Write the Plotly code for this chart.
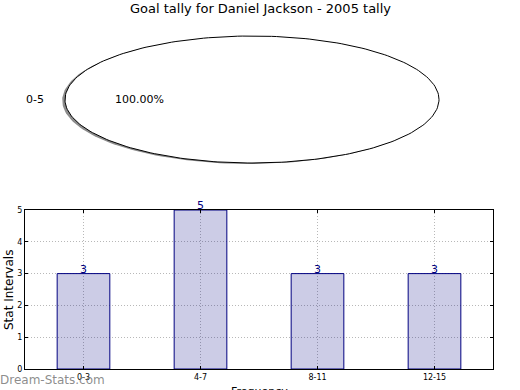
import numpy as np
import plotly.graph_objects as go

# ---- data ----
title = "Goal tally for Daniel Jackson - 2005 tally"
pie_labels = ["0-5"]
pie_values = [1]
bar_categories = ["0-3", "4-7", "8-11", "12-15"]
bar_values = [3, 5, 3, 3]
y_ticks = [0, 1, 2, 3, 4, 5]

FONT = "DejaVu Sans"
fig = go.Figure()

# ---- pie (drawn as wedges on a stretched axis so it renders as an ellipse) ----
total = sum(pie_values)
start = 0.0
shadow_dx, shadow_dy = -0.015, -0.015
wedges = []
for lab, v in zip(pie_labels, pie_values):
    frac = v / total
    th = np.linspace(start, start + 2 * np.pi * frac, 241)
    xs, ys = np.cos(th), np.sin(th)
    if frac < 1:
        xs = np.concatenate([[0], xs, [0]])
        ys = np.concatenate([[0], ys, [0]])
    wedges.append((lab, frac, xs, ys, start + np.pi * frac))
    start += 2 * np.pi * frac

for lab, frac, xs, ys, mid in wedges:
    fig.add_trace(go.Scatter(x=xs + shadow_dx, y=ys + shadow_dy, mode="lines",
                             fill="toself", fillcolor="rgba(0,0,0,0.45)",
                             line=dict(width=0, color="rgba(0,0,0,0)"),
                             xaxis="x2", yaxis="y2", hoverinfo="skip", showlegend=False))
for lab, frac, xs, ys, mid in wedges:
    fig.add_trace(go.Scatter(x=xs, y=ys, mode="lines", fill="toself", fillcolor="white",
                             line=dict(width=1, color="black"),
                             xaxis="x2", yaxis="y2", hoverinfo="skip", showlegend=False))
    lx, ly = 1.1 * np.cos(mid), 1.1 * np.sin(mid)
    fig.add_annotation(x=lx, y=ly, xref="x2", yref="y2", text=lab, showarrow=False,
                       xanchor="right" if lx < 0 else "left", yanchor="middle",
                       font=dict(family=FONT, size=11, color="black"))
    px, py = 0.6 * np.cos(mid), 0.6 * np.sin(mid)
    fig.add_annotation(x=px, y=py, xref="x2", yref="y2", text=f"{frac*100:.2f}%",
                       showarrow=False, xanchor="center", yanchor="middle",
                       font=dict(family=FONT, size=11, color="black"))

# ---- bars ----
xs_bar = list(range(len(bar_categories)))
fig.add_trace(go.Bar(x=xs_bar, y=bar_values, width=0.45,
                     marker=dict(color="rgba(0,0,128,0.2)", line=dict(color="#000080", width=1)),
                     xaxis="x", yaxis="y", showlegend=False, hoverinfo="skip"))
for xi, v in zip(xs_bar, bar_values):
    fig.add_annotation(x=xi, y=v, xref="x", yref="y", text=str(v), showarrow=False,
                       xanchor="center", yanchor="bottom", yshift=-4,
                       font=dict(family=FONT, size=11, color="#000080"))

W, H = 520, 390
grid = dict(showgrid=True, gridcolor="#b8b8b8", griddash="1px,2px", gridwidth=1)
fig.update_layout(
    width=W, height=H, margin=dict(l=0, r=0, t=0, b=0, autoexpand=False),
    paper_bgcolor="white", plot_bgcolor="rgba(0,0,0,0)",
    font=dict(family=FONT, color="black"),
    bargap=0,
    xaxis=dict(domain=[25 / W, 493 / W], anchor="y", range=[-0.5, 3.5],
               tickvals=xs_bar, ticktext=bar_categories, automargin=False,
               tickfont=dict(size=8), ticks="inside", ticklen=3, tickcolor="black",
               showline=True, linecolor="black", linewidth=1, mirror="ticks",
               zeroline=False, fixedrange=True, **grid),
    yaxis=dict(domain=[1 - 369 / H, 1 - 210 / H], anchor="x", range=[0, 5],
               tickvals=y_ticks, tickfont=dict(size=8), ticks="inside", ticklen=3,
               tickcolor="black", showline=True, linecolor="black", linewidth=1,
               automargin=False, mirror="ticks", zeroline=False, fixedrange=True, **grid),
    xaxis2=dict(domain=[0, 1], anchor="y2", range=[-252 / 187, (W - 252) / 187],
                visible=False, fixedrange=True, automargin=False),
    yaxis2=dict(domain=[1 - 170 / H, 1 - 30 / H], anchor="x2",
                range=[-(170 - 99.5) / 63.5, (99.5 - 30) / 63.5],
                visible=False, fixedrange=True, automargin=False),
)

fig.add_annotation(x=0.5, y=1 - 8 / H, xref="paper", yref="paper", text=title,
                   showarrow=False, xanchor="center", yanchor="middle",
                   font=dict(family=FONT, size=13, color="black"))
fig.add_annotation(x=9 / W, y=1 - 290 / H, xref="paper", yref="paper", text="Stat Intervals",
                   textangle=-90, showarrow=False, xanchor="center", yanchor="middle",
                   font=dict(family=FONT, size=12, color="black"))
fig.add_annotation(x=259 / W, y=1 - 391 / H, xref="paper", yref="paper", text="Frequency",
                   showarrow=False, xanchor="center", yanchor="middle",
                   font=dict(family=FONT, size=11, color="black"))
fig.add_annotation(x=-2 / W, y=1 - 380 / H, xref="paper", yref="paper", text="Dream-Stats.com",
                   showarrow=False, xanchor="left", yanchor="middle",
                   font=dict(family=FONT, size=12, color="rgba(120,120,120,0.85)"))

fig.write_html("out.html", config={"displayModeBar": False, "staticPlot": True},
               post_script="document.body.style.margin='0';")
